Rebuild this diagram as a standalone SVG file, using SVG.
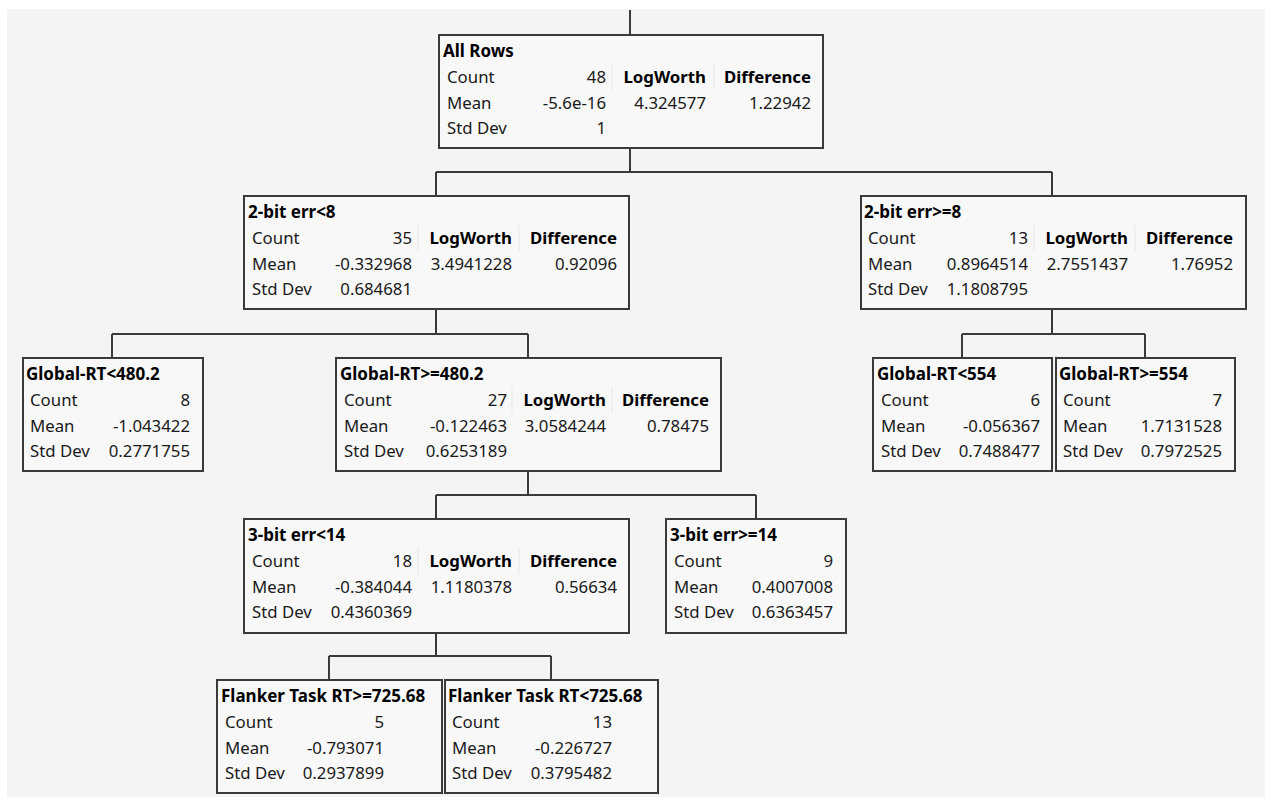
<svg xmlns="http://www.w3.org/2000/svg" width="1265" height="800" viewBox="0 0 1265 800">
<style>
.bg{fill:#f4f4f4}
.box{fill:#f8f8f8;stroke:#3a3a3a;stroke-width:2}
.con{fill:none;stroke:#3a3a3a;stroke-width:2}
text{font-family:"Segoe UI","Noto Sans","Liberation Sans",sans-serif;font-size:16.8px;fill:#1a1a1a}
.t{font-weight:bold;fill:#000;font-size:17px}
.h{font-weight:bold;fill:#000}
.r{text-anchor:end}
.sep{stroke:#e6e6e6;stroke-width:1}
</style>
<rect x="0" y="0" width="1265" height="800" fill="#ffffff"/>
<rect class="bg" x="7" y="9" width="1258" height="788"/>
<g id="connectors">
<path class="con" d="M630,10V35"/>
<path class="con" d="M630,148V172M436,172H1052M436,172V196M1052,172V196"/>
<path class="con" d="M436,309V334M112,334H528M112,334V358M528,334V358"/>
<path class="con" d="M1052,309V334M962,334H1145M962,334V358M1145,334V358"/>
<path class="con" d="M528,471V495M436,495H756M436,495V519M756,495V519"/>
<path class="con" d="M436,633V656M329,656H551M329,656V680M551,656V680"/>
</g>
<g id="n-all">
<rect class="box" x="439" y="35" width="384" height="113"/>
<line class="sep" x1="612" y1="64" x2="612" y2="90"/><line class="sep" x1="714" y1="64" x2="714" y2="90"/>
<text class="t" x="443" y="57">All Rows</text>
<text x="447" y="83">Count</text><text class="r" x="606" y="83">48</text><text class="h r" x="706" y="83">LogWorth</text><text class="h r" x="811" y="83">Difference</text>
<text x="447" y="109">Mean</text><text class="r" x="606" y="109">-5.6e-16</text><text class="r" x="706" y="109">4.324577</text><text class="r" x="811" y="109">1.22942</text>
<text x="447" y="134">Std Dev</text><text class="r" x="606" y="134">1</text>
</g>
<g id="n-2bit-lt8">
<rect class="box" x="244" y="196" width="385" height="113"/>
<line class="sep" x1="418" y1="225" x2="418" y2="251"/><line class="sep" x1="519" y1="225" x2="519" y2="251"/>
<text class="t" x="248" y="218">2-bit err&lt;8</text>
<text x="252" y="244">Count</text><text class="r" x="412" y="244">35</text><text class="h r" x="512" y="244">LogWorth</text><text class="h r" x="617" y="244">Difference</text>
<text x="252" y="270">Mean</text><text class="r" x="412" y="270">-0.332968</text><text class="r" x="512" y="270">3.4941228</text><text class="r" x="617" y="270">0.92096</text>
<text x="252" y="295">Std Dev</text><text class="r" x="412" y="295">0.684681</text>
</g>
<g id="n-2bit-ge8">
<rect class="box" x="861" y="196" width="385" height="113"/>
<line class="sep" x1="1034" y1="225" x2="1034" y2="251"/><line class="sep" x1="1135" y1="225" x2="1135" y2="251"/>
<text class="t" x="864" y="218">2-bit err&gt;=8</text>
<text x="868" y="244">Count</text><text class="r" x="1028" y="244">13</text><text class="h r" x="1128" y="244">LogWorth</text><text class="h r" x="1233" y="244">Difference</text>
<text x="868" y="270">Mean</text><text class="r" x="1028" y="270">0.8964514</text><text class="r" x="1128" y="270">2.7551437</text><text class="r" x="1233" y="270">1.76952</text>
<text x="868" y="295">Std Dev</text><text class="r" x="1028" y="295">1.1808795</text>
</g>
<g id="n-grt-lt480">
<rect class="box" x="23" y="358" width="180" height="113"/>
<text class="t" x="26" y="380">Global-RT&lt;480.2</text>
<text x="30" y="406">Count</text><text class="r" x="190" y="406">8</text>
<text x="30" y="432">Mean</text><text class="r" x="190" y="432">-1.043422</text>
<text x="30" y="457">Std Dev</text><text class="r" x="190" y="457">0.2771755</text>
</g>
<g id="n-grt-ge480">
<rect class="box" x="336" y="358" width="385" height="113"/>
<line class="sep" x1="512" y1="387" x2="512" y2="413"/><line class="sep" x1="612" y1="387" x2="612" y2="413"/>
<text class="t" x="340" y="380">Global-RT&gt;=480.2</text>
<text x="344" y="406">Count</text><text class="r" x="507" y="406">27</text><text class="h r" x="606" y="406">LogWorth</text><text class="h r" x="709" y="406">Difference</text>
<text x="344" y="432">Mean</text><text class="r" x="507" y="432">-0.122463</text><text class="r" x="606" y="432">3.0584244</text><text class="r" x="709" y="432">0.78475</text>
<text x="344" y="457">Std Dev</text><text class="r" x="507" y="457">0.6253189</text>
</g>
<g id="n-grt-lt554">
<rect class="box" x="873" y="358" width="179" height="113"/>
<text class="t" x="877" y="380">Global-RT&lt;554</text>
<text x="881" y="406">Count</text><text class="r" x="1040" y="406">6</text>
<text x="881" y="432">Mean</text><text class="r" x="1040" y="432">-0.056367</text>
<text x="881" y="457">Std Dev</text><text class="r" x="1040" y="457">0.7488477</text>
</g>
<g id="n-grt-ge554">
<rect class="box" x="1056" y="358" width="179" height="113"/>
<text class="t" x="1059" y="380">Global-RT&gt;=554</text>
<text x="1063" y="406">Count</text><text class="r" x="1222" y="406">7</text>
<text x="1063" y="432">Mean</text><text class="r" x="1222" y="432">1.7131528</text>
<text x="1063" y="457">Std Dev</text><text class="r" x="1222" y="457">0.7972525</text>
</g>
<g id="n-3bit-lt14">
<rect class="box" x="244" y="519" width="385" height="114"/>
<line class="sep" x1="418" y1="548" x2="418" y2="574"/><line class="sep" x1="519" y1="548" x2="519" y2="574"/>
<text class="t" x="248" y="541">3-bit err&lt;14</text>
<text x="252" y="567">Count</text><text class="r" x="412" y="567">18</text><text class="h r" x="512" y="567">LogWorth</text><text class="h r" x="617" y="567">Difference</text>
<text x="252" y="593">Mean</text><text class="r" x="412" y="593">-0.384044</text><text class="r" x="512" y="593">1.1180378</text><text class="r" x="617" y="593">0.56634</text>
<text x="252" y="618">Std Dev</text><text class="r" x="412" y="618">0.4360369</text>
</g>
<g id="n-3bit-ge14">
<rect class="box" x="666" y="519" width="180" height="114"/>
<text class="t" x="670" y="541">3-bit err&gt;=14</text>
<text x="674" y="567">Count</text><text class="r" x="833" y="567">9</text>
<text x="674" y="593">Mean</text><text class="r" x="833" y="593">0.4007008</text>
<text x="674" y="618">Std Dev</text><text class="r" x="833" y="618">0.6363457</text>
</g>
<g id="n-flank-ge">
<rect class="box" x="217" y="680" width="225" height="113"/>
<text class="t" x="221" y="702">Flanker Task RT&gt;=725.68</text>
<text x="225" y="728">Count</text><text class="r" x="384" y="728">5</text>
<text x="225" y="754">Mean</text><text class="r" x="384" y="754">-0.793071</text>
<text x="225" y="779">Std Dev</text><text class="r" x="384" y="779">0.2937899</text>
</g>
<g id="n-flank-lt">
<rect class="box" x="445" y="680" width="213" height="113"/>
<text class="t" x="448" y="702">Flanker Task RT&lt;725.68</text>
<text x="452" y="728">Count</text><text class="r" x="612" y="728">13</text>
<text x="452" y="754">Mean</text><text class="r" x="612" y="754">-0.226727</text>
<text x="452" y="779">Std Dev</text><text class="r" x="612" y="779">0.3795482</text>
</g>
</svg>
